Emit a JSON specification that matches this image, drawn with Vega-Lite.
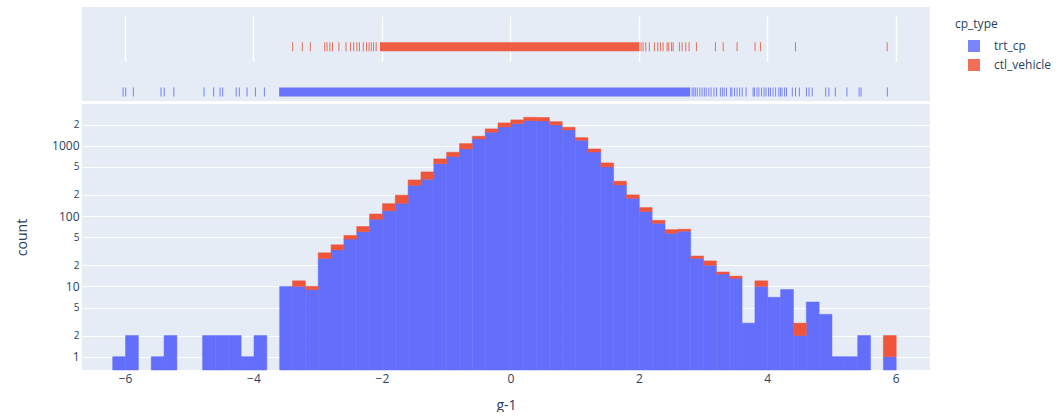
{
  "$schema": "https://vega.github.io/schema/vega-lite/v6.json",
  "padding": {"left": 15, "top": 7, "right": 0, "bottom": 0},
  "background": "white",
  "config": {
    "font": "Open Sans",
    "view": {"fill": "#E5ECF6", "stroke": null},
    "axis": {"labelColor": "#2a3f5f", "titleColor": "#2a3f5f", "labelFont": "Open Sans", "titleFont": "Open Sans", "titleFontWeight": "normal", "domain": false, "ticks": false, "gridColor": "white", "gridWidth": 1, "gridOpacity": 1},
    "legend": {"labelColor": "#2a3f5f", "titleColor": "#2a3f5f", "labelFont": "Open Sans", "titleFont": "Open Sans"}
  },
  "datasets": {
    "hist": [
      {"bin_start": -6.2, "bin_end": -6.0, "cp_type": "trt_cp", "count": 1},
      {"bin_start": -6.0, "bin_end": -5.8, "cp_type": "trt_cp", "count": 2},
      {"bin_start": -5.6, "bin_end": -5.4, "cp_type": "trt_cp", "count": 1},
      {"bin_start": -5.4, "bin_end": -5.2, "cp_type": "trt_cp", "count": 2},
      {"bin_start": -4.8, "bin_end": -4.6, "cp_type": "trt_cp", "count": 2},
      {"bin_start": -4.6, "bin_end": -4.4, "cp_type": "trt_cp", "count": 2},
      {"bin_start": -4.4, "bin_end": -4.2, "cp_type": "trt_cp", "count": 2},
      {"bin_start": -4.2, "bin_end": -4.0, "cp_type": "trt_cp", "count": 1},
      {"bin_start": -4.0, "bin_end": -3.8, "cp_type": "trt_cp", "count": 2},
      {"bin_start": -3.6, "bin_end": -3.4, "cp_type": "trt_cp", "count": 10},
      {"bin_start": -3.4, "bin_end": -3.2, "cp_type": "trt_cp", "count": 10},
      {"bin_start": -3.2, "bin_end": -3.0, "cp_type": "trt_cp", "count": 9},
      {"bin_start": -3.0, "bin_end": -2.8, "cp_type": "trt_cp", "count": 25},
      {"bin_start": -2.8, "bin_end": -2.6, "cp_type": "trt_cp", "count": 33},
      {"bin_start": -2.6, "bin_end": -2.4, "cp_type": "trt_cp", "count": 47},
      {"bin_start": -2.4, "bin_end": -2.2, "cp_type": "trt_cp", "count": 60},
      {"bin_start": -2.2, "bin_end": -2.0, "cp_type": "trt_cp", "count": 90},
      {"bin_start": -2.0, "bin_end": -1.8, "cp_type": "trt_cp", "count": 119},
      {"bin_start": -1.8, "bin_end": -1.6, "cp_type": "trt_cp", "count": 152},
      {"bin_start": -1.6, "bin_end": -1.4, "cp_type": "trt_cp", "count": 274},
      {"bin_start": -1.4, "bin_end": -1.2, "cp_type": "trt_cp", "count": 334},
      {"bin_start": -1.2, "bin_end": -1.0, "cp_type": "trt_cp", "count": 556},
      {"bin_start": -1.0, "bin_end": -0.8, "cp_type": "trt_cp", "count": 700},
      {"bin_start": -0.8, "bin_end": -0.6, "cp_type": "trt_cp", "count": 900},
      {"bin_start": -0.6, "bin_end": -0.4, "cp_type": "trt_cp", "count": 1250},
      {"bin_start": -0.4, "bin_end": -0.2, "cp_type": "trt_cp", "count": 1556},
      {"bin_start": -0.2, "bin_end": 0.0, "cp_type": "trt_cp", "count": 1850},
      {"bin_start": 0.0, "bin_end": 0.2, "cp_type": "trt_cp", "count": 2060},
      {"bin_start": 0.2, "bin_end": 0.4, "cp_type": "trt_cp", "count": 2275},
      {"bin_start": 0.4, "bin_end": 0.6, "cp_type": "trt_cp", "count": 2250},
      {"bin_start": 0.6, "bin_end": 0.8, "cp_type": "trt_cp", "count": 1980},
      {"bin_start": 0.8, "bin_end": 1.0, "cp_type": "trt_cp", "count": 1680},
      {"bin_start": 1.0, "bin_end": 1.2, "cp_type": "trt_cp", "count": 1200},
      {"bin_start": 1.2, "bin_end": 1.4, "cp_type": "trt_cp", "count": 815},
      {"bin_start": 1.4, "bin_end": 1.6, "cp_type": "trt_cp", "count": 500},
      {"bin_start": 1.6, "bin_end": 1.8, "cp_type": "trt_cp", "count": 277},
      {"bin_start": 1.8, "bin_end": 2.0, "cp_type": "trt_cp", "count": 179},
      {"bin_start": 2.0, "bin_end": 2.2, "cp_type": "trt_cp", "count": 116},
      {"bin_start": 2.2, "bin_end": 2.4, "cp_type": "trt_cp", "count": 79},
      {"bin_start": 2.4, "bin_end": 2.6, "cp_type": "trt_cp", "count": 57},
      {"bin_start": 2.6, "bin_end": 2.8, "cp_type": "trt_cp", "count": 61},
      {"bin_start": 2.8, "bin_end": 3.0, "cp_type": "trt_cp", "count": 25},
      {"bin_start": 3.0, "bin_end": 3.2, "cp_type": "trt_cp", "count": 20},
      {"bin_start": 3.2, "bin_end": 3.4, "cp_type": "trt_cp", "count": 15},
      {"bin_start": 3.4, "bin_end": 3.6, "cp_type": "trt_cp", "count": 13},
      {"bin_start": 3.6, "bin_end": 3.8, "cp_type": "trt_cp", "count": 3},
      {"bin_start": 3.8, "bin_end": 4.0, "cp_type": "trt_cp", "count": 10},
      {"bin_start": 4.0, "bin_end": 4.2, "cp_type": "trt_cp", "count": 7},
      {"bin_start": 4.2, "bin_end": 4.4, "cp_type": "trt_cp", "count": 9},
      {"bin_start": 4.4, "bin_end": 4.6, "cp_type": "trt_cp", "count": 2},
      {"bin_start": 4.6, "bin_end": 4.8, "cp_type": "trt_cp", "count": 6},
      {"bin_start": 4.8, "bin_end": 5.0, "cp_type": "trt_cp", "count": 4},
      {"bin_start": 5.0, "bin_end": 5.2, "cp_type": "trt_cp", "count": 1},
      {"bin_start": 5.2, "bin_end": 5.4, "cp_type": "trt_cp", "count": 1},
      {"bin_start": 5.4, "bin_end": 5.6, "cp_type": "trt_cp", "count": 2},
      {"bin_start": 5.8, "bin_end": 6.0, "cp_type": "trt_cp", "count": 1},
      {"bin_start": -3.4, "bin_end": -3.2, "cp_type": "ctl_vehicle", "count": 2},
      {"bin_start": -3.2, "bin_end": -3.0, "cp_type": "ctl_vehicle", "count": 1},
      {"bin_start": -3.0, "bin_end": -2.8, "cp_type": "ctl_vehicle", "count": 5},
      {"bin_start": -2.8, "bin_end": -2.6, "cp_type": "ctl_vehicle", "count": 6},
      {"bin_start": -2.6, "bin_end": -2.4, "cp_type": "ctl_vehicle", "count": 6},
      {"bin_start": -2.4, "bin_end": -2.2, "cp_type": "ctl_vehicle", "count": 11},
      {"bin_start": -2.2, "bin_end": -2.0, "cp_type": "ctl_vehicle", "count": 17},
      {"bin_start": -2.0, "bin_end": -1.8, "cp_type": "ctl_vehicle", "count": 31},
      {"bin_start": -1.8, "bin_end": -1.6, "cp_type": "ctl_vehicle", "count": 46},
      {"bin_start": -1.6, "bin_end": -1.4, "cp_type": "ctl_vehicle", "count": 52},
      {"bin_start": -1.4, "bin_end": -1.2, "cp_type": "ctl_vehicle", "count": 90},
      {"bin_start": -1.2, "bin_end": -1.0, "cp_type": "ctl_vehicle", "count": 93},
      {"bin_start": -1.0, "bin_end": -0.8, "cp_type": "ctl_vehicle", "count": 107},
      {"bin_start": -0.8, "bin_end": -0.6, "cp_type": "ctl_vehicle", "count": 172},
      {"bin_start": -0.6, "bin_end": -0.4, "cp_type": "ctl_vehicle", "count": 114},
      {"bin_start": -0.4, "bin_end": -0.2, "cp_type": "ctl_vehicle", "count": 178},
      {"bin_start": -0.2, "bin_end": 0.0, "cp_type": "ctl_vehicle", "count": 260},
      {"bin_start": 0.0, "bin_end": 0.2, "cp_type": "ctl_vehicle", "count": 270},
      {"bin_start": 0.2, "bin_end": 0.4, "cp_type": "ctl_vehicle", "count": 265},
      {"bin_start": 0.4, "bin_end": 0.6, "cp_type": "ctl_vehicle", "count": 270},
      {"bin_start": 0.6, "bin_end": 0.8, "cp_type": "ctl_vehicle", "count": 220},
      {"bin_start": 0.8, "bin_end": 1.0, "cp_type": "ctl_vehicle", "count": 150},
      {"bin_start": 1.0, "bin_end": 1.2, "cp_type": "ctl_vehicle", "count": 103},
      {"bin_start": 1.2, "bin_end": 1.4, "cp_type": "ctl_vehicle", "count": 85},
      {"bin_start": 1.4, "bin_end": 1.6, "cp_type": "ctl_vehicle", "count": 69},
      {"bin_start": 1.6, "bin_end": 1.8, "cp_type": "ctl_vehicle", "count": 36},
      {"bin_start": 1.8, "bin_end": 2.0, "cp_type": "ctl_vehicle", "count": 21},
      {"bin_start": 2.0, "bin_end": 2.2, "cp_type": "ctl_vehicle", "count": 16},
      {"bin_start": 2.2, "bin_end": 2.4, "cp_type": "ctl_vehicle", "count": 8},
      {"bin_start": 2.4, "bin_end": 2.6, "cp_type": "ctl_vehicle", "count": 7},
      {"bin_start": 2.6, "bin_end": 2.8, "cp_type": "ctl_vehicle", "count": 4},
      {"bin_start": 2.8, "bin_end": 3.0, "cp_type": "ctl_vehicle", "count": 2},
      {"bin_start": 3.0, "bin_end": 3.2, "cp_type": "ctl_vehicle", "count": 3},
      {"bin_start": 3.2, "bin_end": 3.4, "cp_type": "ctl_vehicle", "count": 1},
      {"bin_start": 3.4, "bin_end": 3.6, "cp_type": "ctl_vehicle", "count": 1},
      {"bin_start": 3.8, "bin_end": 4.0, "cp_type": "ctl_vehicle", "count": 2},
      {"bin_start": 4.4, "bin_end": 4.6, "cp_type": "ctl_vehicle", "count": 1},
      {"bin_start": 5.8, "bin_end": 6.0, "cp_type": "ctl_vehicle", "count": 1}
    ],
    "rug": [
      {"cp_type": "ctl_vehicle", "value": -3.39},
      {"cp_type": "ctl_vehicle", "value": -3.24},
      {"cp_type": "ctl_vehicle", "value": -3.115},
      {"cp_type": "ctl_vehicle", "value": -2.89},
      {"cp_type": "ctl_vehicle", "value": -2.855},
      {"cp_type": "ctl_vehicle", "value": -2.81},
      {"cp_type": "ctl_vehicle", "value": -2.77},
      {"cp_type": "ctl_vehicle", "value": -2.67},
      {"cp_type": "ctl_vehicle", "value": -2.56},
      {"cp_type": "ctl_vehicle", "value": -2.49},
      {"cp_type": "ctl_vehicle", "value": -2.44},
      {"cp_type": "ctl_vehicle", "value": -2.39},
      {"cp_type": "ctl_vehicle", "value": -2.35},
      {"cp_type": "ctl_vehicle", "value": -2.29},
      {"cp_type": "ctl_vehicle", "value": -2.24},
      {"cp_type": "ctl_vehicle", "value": -2.2},
      {"cp_type": "ctl_vehicle", "value": -2.165},
      {"cp_type": "ctl_vehicle", "value": -2.13},
      {"cp_type": "ctl_vehicle", "value": -2.09},
      {"cp_type": "ctl_vehicle", "value": 2.035},
      {"cp_type": "ctl_vehicle", "value": 2.066},
      {"cp_type": "ctl_vehicle", "value": 2.108},
      {"cp_type": "ctl_vehicle", "value": 2.165},
      {"cp_type": "ctl_vehicle", "value": 2.243},
      {"cp_type": "ctl_vehicle", "value": 2.295},
      {"cp_type": "ctl_vehicle", "value": 2.336},
      {"cp_type": "ctl_vehicle", "value": 2.378},
      {"cp_type": "ctl_vehicle", "value": 2.44},
      {"cp_type": "ctl_vehicle", "value": 2.466},
      {"cp_type": "ctl_vehicle", "value": 2.508},
      {"cp_type": "ctl_vehicle", "value": 2.534},
      {"cp_type": "ctl_vehicle", "value": 2.632},
      {"cp_type": "ctl_vehicle", "value": 2.674},
      {"cp_type": "ctl_vehicle", "value": 2.731},
      {"cp_type": "ctl_vehicle", "value": 2.783},
      {"cp_type": "ctl_vehicle", "value": 2.897},
      {"cp_type": "ctl_vehicle", "value": 3.193},
      {"cp_type": "ctl_vehicle", "value": 3.313},
      {"cp_type": "ctl_vehicle", "value": 3.53},
      {"cp_type": "ctl_vehicle", "value": 3.81},
      {"cp_type": "ctl_vehicle", "value": 3.894},
      {"cp_type": "ctl_vehicle", "value": 4.44},
      {"cp_type": "ctl_vehicle", "value": 5.867},
      {"cp_type": "trt_cp", "value": -6.03},
      {"cp_type": "trt_cp", "value": -5.99},
      {"cp_type": "trt_cp", "value": -5.87},
      {"cp_type": "trt_cp", "value": -5.44},
      {"cp_type": "trt_cp", "value": -5.39},
      {"cp_type": "trt_cp", "value": -5.24},
      {"cp_type": "trt_cp", "value": -4.77},
      {"cp_type": "trt_cp", "value": -4.62},
      {"cp_type": "trt_cp", "value": -4.52},
      {"cp_type": "trt_cp", "value": -4.48},
      {"cp_type": "trt_cp", "value": -4.27},
      {"cp_type": "trt_cp", "value": -4.22},
      {"cp_type": "trt_cp", "value": -4.1},
      {"cp_type": "trt_cp", "value": -3.97},
      {"cp_type": "trt_cp", "value": -3.83},
      {"cp_type": "trt_cp", "value": 2.83},
      {"cp_type": "trt_cp", "value": 2.856},
      {"cp_type": "trt_cp", "value": 2.88},
      {"cp_type": "trt_cp", "value": 2.91},
      {"cp_type": "trt_cp", "value": 2.95},
      {"cp_type": "trt_cp", "value": 2.985},
      {"cp_type": "trt_cp", "value": 3.02},
      {"cp_type": "trt_cp", "value": 3.05},
      {"cp_type": "trt_cp", "value": 3.09},
      {"cp_type": "trt_cp", "value": 3.125},
      {"cp_type": "trt_cp", "value": 3.17},
      {"cp_type": "trt_cp", "value": 3.21},
      {"cp_type": "trt_cp", "value": 3.27},
      {"cp_type": "trt_cp", "value": 3.3},
      {"cp_type": "trt_cp", "value": 3.33},
      {"cp_type": "trt_cp", "value": 3.365},
      {"cp_type": "trt_cp", "value": 3.43},
      {"cp_type": "trt_cp", "value": 3.45},
      {"cp_type": "trt_cp", "value": 3.49},
      {"cp_type": "trt_cp", "value": 3.53},
      {"cp_type": "trt_cp", "value": 3.57},
      {"cp_type": "trt_cp", "value": 3.61},
      {"cp_type": "trt_cp", "value": 3.67},
      {"cp_type": "trt_cp", "value": 3.78},
      {"cp_type": "trt_cp", "value": 3.8},
      {"cp_type": "trt_cp", "value": 3.84},
      {"cp_type": "trt_cp", "value": 3.87},
      {"cp_type": "trt_cp", "value": 3.91},
      {"cp_type": "trt_cp", "value": 3.95},
      {"cp_type": "trt_cp", "value": 3.98},
      {"cp_type": "trt_cp", "value": 4.02},
      {"cp_type": "trt_cp", "value": 4.05},
      {"cp_type": "trt_cp", "value": 4.09},
      {"cp_type": "trt_cp", "value": 4.13},
      {"cp_type": "trt_cp", "value": 4.18},
      {"cp_type": "trt_cp", "value": 4.205},
      {"cp_type": "trt_cp", "value": 4.23},
      {"cp_type": "trt_cp", "value": 4.27},
      {"cp_type": "trt_cp", "value": 4.3},
      {"cp_type": "trt_cp", "value": 4.39},
      {"cp_type": "trt_cp", "value": 4.44},
      {"cp_type": "trt_cp", "value": 4.5},
      {"cp_type": "trt_cp", "value": 4.61},
      {"cp_type": "trt_cp", "value": 4.65},
      {"cp_type": "trt_cp", "value": 4.7},
      {"cp_type": "trt_cp", "value": 4.91},
      {"cp_type": "trt_cp", "value": 4.96},
      {"cp_type": "trt_cp", "value": 5.06},
      {"cp_type": "trt_cp", "value": 5.24},
      {"cp_type": "trt_cp", "value": 5.43},
      {"cp_type": "trt_cp", "value": 5.46},
      {"cp_type": "trt_cp", "value": 5.87}
    ],
    "bands": [
      {"cp_type": "ctl_vehicle", "start": -2.03, "end": 2.01},
      {"cp_type": "trt_cp", "start": -3.6, "end": 2.8}
    ]
  },
  "spacing": 3,
  "resolve": {"legend": {"color": "independent"}},
  "vconcat": [
    {
      "width": 848,
      "height": 94,
      "layer": [
        {
          "data": {"name": "bands"},
          "mark": {"type": "bar", "size": 9, "opacity": 0.95},
          "encoding": {
            "x": {"field": "start", "type": "quantitative", "scale": {"domain": [-6.67, 6.534], "nice": false, "zero": false}, "axis": {"values": [-6, -4, -2, 0, 2, 4, 6], "labels": false, "grid": true, "gridWidth": 1.5, "title": null, "orient": "bottom"}},
            "x2": {"field": "end"},
            "y": {"field": "cp_type", "type": "nominal", "scale": {"type": "point", "domain": ["ctl_vehicle", "trt_cp"], "range": [39.7, 85], "padding": 0}, "axis": null},
            "color": {"field": "cp_type", "type": "nominal", "scale": {"domain": ["trt_cp", "ctl_vehicle"], "range": ["#636efa", "#EF553B"]}, "legend": {"title": "cp_type", "orient": "none", "legendX": 873, "legendY": 12, "symbolType": "square", "symbolSize": 144, "symbolStrokeWidth": 0, "symbolOpacity": 1, "symbolOffset": 13, "labelFontSize": 12, "titleFontSize": 12, "titleFontWeight": "normal", "labelOffset": 14, "rowPadding": 7, "titlePadding": 9, "padding": 0}}
          }
        },
        {
          "data": {"name": "rug"},
          "mark": {"type": "tick", "size": 9, "thickness": 1, "opacity": 0.85},
          "encoding": {
            "x": {"field": "value", "type": "quantitative"},
            "y": {"field": "cp_type", "type": "nominal"},
            "color": {"field": "cp_type", "type": "nominal"}
          }
        }
      ]
    },
    {
      "width": 848,
      "height": 266,
      "data": {"name": "hist"},
      "transform": [
        {"stack": "count", "groupby": ["bin_start"], "sort": [{"field": "cp_type", "order": "descending"}], "as": ["y0", "y1"]}
      ],
      "mark": {"type": "bar", "binSpacing": 0, "strokeWidth": 0.5},
      "encoding": {
        "x": {"field": "bin_start", "type": "quantitative", "bin": {"binned": true, "step": 0.2}, "scale": {"domain": [-6.67, 6.534], "nice": false, "zero": false}, "axis": {"values": [-6, -4, -2, 0, 2, 4, 6], "format": "d", "grid": false, "title": "g-1", "titleFontSize": 14, "labelFontSize": 12, "labelPadding": 3, "titlePadding": 14}},
        "x2": {"field": "bin_end"},
        "y": {"field": "y1", "type": "quantitative", "scale": {"type": "log", "domain": [0.647, 3920], "nice": false, "clamp": true}, "axis": {"values": [1, 2, 5, 10, 20, 50, 100, 200, 500, 1000, 2000], "format": "d", "grid": true, "title": "count", "titleFontSize": 14, "labelPadding": 3, "titlePadding": 22, "labelFontSize": {"condition": {"test": "datum.value == 1 || datum.value == 10 || datum.value == 100 || datum.value == 1000", "value": 12}, "value": 10}, "labelExpr": "datum.value == 2 || datum.value == 20 || datum.value == 200 || datum.value == 2000 ? '2' : (datum.value == 5 || datum.value == 50 || datum.value == 500 ? '5' : datum.label)"}},
        "y2": {"field": "y0"},
        "color": {"field": "cp_type", "type": "nominal", "scale": {"domain": ["trt_cp", "ctl_vehicle"], "range": ["#636efa", "#EF553B"]}, "legend": null},
        "stroke": {"field": "cp_type", "type": "nominal", "scale": {"domain": ["trt_cp", "ctl_vehicle"], "range": ["#636efa", "#EF553B"]}, "legend": null}
      }
    }
  ]
}
